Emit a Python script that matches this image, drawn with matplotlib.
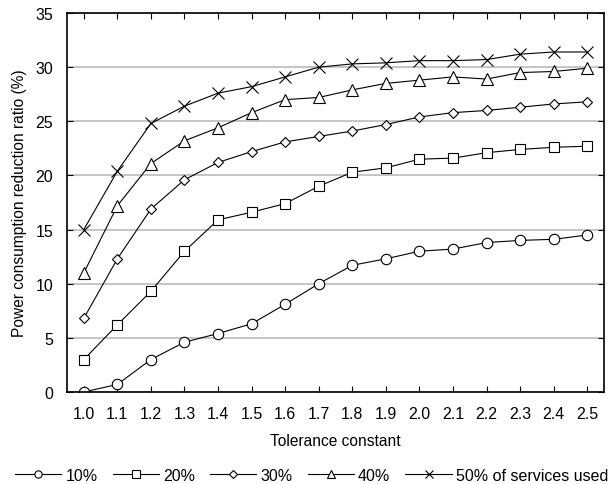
import numpy as np
import matplotlib.pyplot as plt

plt.rcParams['font.family'] = ['Liberation Sans', 'DejaVu Sans']

# 数据
tol = [1.0, 1.1, 1.2, 1.3, 1.4, 1.5, 1.6, 1.7, 1.8, 1.9, 2.0, 2.1, 2.2, 2.3, 2.4, 2.5]
p10 = [0.0, 0.7, 3.0, 4.6, 5.4, 6.3, 8.1, 10.0, 11.7, 12.3, 13.0, 13.2, 13.8, 14.0, 14.1, 14.5]
p20 = [3.0, 6.2, 9.3, 13.0, 15.9, 16.6, 17.4, 19.0, 20.3, 20.7, 21.5, 21.6, 22.1, 22.4, 22.6, 22.7]
p30 = [6.8, 12.3, 16.9, 19.6, 21.2, 22.2, 23.1, 23.6, 24.1, 24.7, 25.4, 25.8, 26.0, 26.3, 26.6, 26.8]
p40 = [11.0, 17.2, 21.1, 23.2, 24.4, 25.8, 27.0, 27.2, 27.9, 28.5, 28.8, 29.1, 28.9, 29.5, 29.6, 29.9]
p50 = [15.0, 20.4, 24.8, 26.4, 27.6, 28.2, 29.1, 30.0, 30.3, 30.4, 30.6, 30.6, 30.7, 31.2, 31.4, 31.4]

series = [
    (p10, 'o', 7.5, '10%'),
    (p20, 's', 7.5, '20%'),
    (p30, 'D', 5.5, '30%'),
    (p40, '^', 8, '40%'),
    (p50, 'x', 8, '50% of services used'),
]

fig = plt.figure(figsize=(6.11, 4.85), dpi=100)
ax = fig.add_axes([0.1097, 0.1897, 0.8788, 0.7814])

for y, m, ms, lab in series:
    ax.plot(tol, y, color='black', linewidth=0.8, marker=m, markersize=ms,
            markerfacecolor='white', markeredgecolor='black', markeredgewidth=0.8,
            label=lab)

ax.set_xlim(0.95, 2.55)
ax.set_ylim(0, 35)
ax.set_xticks(tol)
ax.set_xticklabels(['%.1f' % t for t in tol])
ax.set_yticks(np.arange(0, 36, 5))
ax.yaxis.grid(True, color='#c0c0c0', linewidth=1.3)
ax.set_axisbelow(True)
ax.tick_params(direction='in', top=True, right=True, labelsize=11.5, length=4)
ax.tick_params(axis='x', pad=10)
ax.tick_params(axis='y', pad=10)
for s in ax.spines.values():
    s.set_linewidth(1.2)

ax.set_xlabel('Tolerance constant', fontsize=11.2, labelpad=9)
ax.set_ylabel('Power consumption reduction ratio (%)', fontsize=11.2, labelpad=6)

fig.legend(loc='center', bbox_to_anchor=(0.51, 0.018), ncol=5, frameon=False,
           fontsize=11.5, handlelength=2.9, columnspacing=0.95, handletextpad=0.25,
           markerscale=0.7)

plt.savefig('out.png', dpi=100)
